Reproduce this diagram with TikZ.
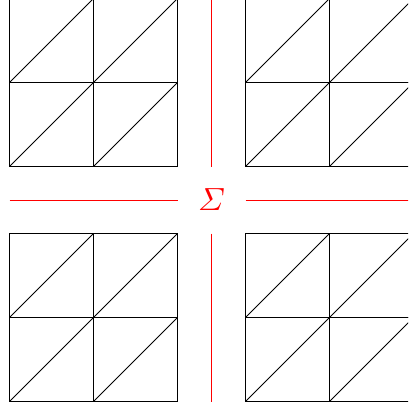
\documentclass[tikz,border=0pt]{standalone}
\usepackage{amsmath}
\tikzset{meshpic/.style={x=1pt,y=-1pt,line width=0.8pt},
  cutline/.style={draw=red,line width=1pt}}
\begin{document}
\begin{tikzpicture}[meshpic]
  \useasboundingbox (0,0) rectangle (408,409);
  \clip (0,0) rectangle (408,409);
  \def\s{84}
  % four 2x2 meshes
  \foreach \ox/\oy in {9.5/-1.5, 245.5/-1.5, 9.5/233.5, 245.5/233.5} {
    \foreach \i in {0,1} \foreach \j in {0,1} {
      \draw (\ox+\i*\s,\oy+\j*\s) rectangle ++(\s,\s);
      \draw (\ox+\i*\s,\oy+\j*\s+\s) -- ++(\s,-\s);
    }
  }
  % red cuts
  \draw[cutline] (9.5,200) -- (177.5,200);
  \draw[cutline] (245.5,200) -- (413,200);
  \draw[cutline] (211.5,-1.5) -- (211.5,166.5);
  \draw[cutline] (211.5,233.5) -- (211.5,401.5);
  \node[red,scale=3.2] (sigma) at (211.5,200) {$\varSigma$};
\end{tikzpicture}
\end{document}
